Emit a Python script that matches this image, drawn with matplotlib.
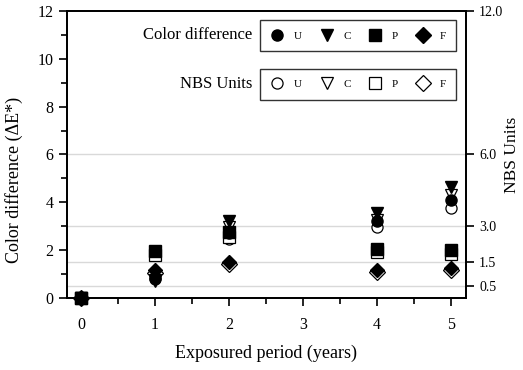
import matplotlib
matplotlib.use("Agg")
import matplotlib.pyplot as plt
from matplotlib.lines import Line2D

plt.rcParams['font.family'] = ['Liberation Serif', 'DejaVu Serif']
plt.rcParams['mathtext.fontset'] = 'stix'

# exposure period (years)
years = [0, 1, 2, 4, 5]
series = ['U', 'C', 'P', 'F']
markers = ['o', 'v', 's', 'D']

# colour difference dE* (filled markers)
de_u = [0.0, 0.85, 2.70, 3.20, 4.10]
de_c = [0.0, 0.75, 3.20, 3.55, 4.65]
de_p = [0.0, 1.95, 2.75, 2.05, 2.00]
de_f = [0.0, 1.15, 1.50, 1.15, 1.25]

# NBS units (open markers)
nbs_u = [0.0, 0.80, 2.45, 2.95, 3.75]
nbs_c = [0.0, 0.70, 2.95, 3.25, 4.30]
nbs_p = [0.0, 1.80, 2.55, 1.90, 1.85]
nbs_f = [0.0, 1.05, 1.40, 1.10, 1.15]

nbs_ticks = [0.5, 1.5, 3.0, 6.0, 12.0]

de_all = [de_u, de_c, de_p, de_f]
nbs_all = [nbs_u, nbs_c, nbs_p, nbs_f]

fig = plt.figure(figsize=(5.23, 3.70), dpi=100)
ax = fig.add_axes([0.128, 0.195, 0.763, 0.775])

for y in nbs_ticks[:-1]:
    ax.axhline(y, color='#d9d9d9', lw=1, zorder=0)

ms = 8
for vals, m in zip(nbs_all, markers):
    ax.plot(years, vals, linestyle='none', marker=m, ms=ms, mfc='white',
            mec='black', mew=0.9, zorder=4, clip_on=False)
for vals, m in zip(de_all, markers):
    ax.plot(years, vals, linestyle='none', marker=m, ms=ms if m != 'D' else 7,
            color='black', zorder=5, clip_on=False)

ax.set_xlim(-0.19, 5.2)
ax.set_ylim(0, 12)
ax.set_xticks([0, 1, 2, 3, 4, 5])
ax.set_xticks([0.5, 1.5, 2.5, 3.5, 4.5], minor=True)
ax.set_yticks([0, 2, 4, 6, 8, 10, 12])
ax.set_yticks([1, 3, 5, 7, 9, 11], minor=True)
ax.tick_params(axis='both', which='major', direction='out', length=6, width=1.2,
               labelsize=11.5)
ax.tick_params(axis='both', which='minor', direction='out', length=4, width=1.2)
ax.tick_params(axis='x', pad=8)
for s in ax.spines.values():
    s.set_linewidth(1.3)

ax.set_xlabel('Exposured period (years)', fontsize=13, labelpad=8)
ax.set_ylabel('Color difference (ΔE*)', fontsize=13)
ax.yaxis.set_label_coords(-0.11, 0.41)

ax2 = ax.twinx()
ax2.set_ylim(0, 12)
ax2.set_yticks(nbs_ticks)
ax2.set_yticklabels([f'{v:.1f}' for v in nbs_ticks])
ax2.tick_params(axis='y', direction='out', length=6, width=1.2, labelsize=10)
ax2.set_ylabel('NBS Units', fontsize=12.5, rotation=90)
ax2.yaxis.set_label_coords(1.095, 0.5)
for s in ax2.spines.values():
    s.set_linewidth(1.3)

# legends
filled = [Line2D([], [], linestyle='none', marker=m, ms=ms, color='black')
          for m in markers]
opened = [Line2D([], [], linestyle='none', marker=m, ms=ms, mfc='white',
                 mec='black', mew=0.9) for m in markers]
leg_kw = dict(ncol=4, frameon=True, fancybox=False, edgecolor='black',
              fontsize=8, handlelength=1.2, handletextpad=0.9, columnspacing=1.6,
              borderpad=0.95, borderaxespad=0)
leg1 = ax2.legend(filled, series, loc='upper right',
                  bbox_to_anchor=(0.975, 0.968), **leg_kw)
leg1.get_frame().set_linewidth(1.0)
ax2.add_artist(leg1)
leg2 = ax2.legend(opened, series, loc='upper right',
                  bbox_to_anchor=(0.975, 0.798), **leg_kw)
leg2.get_frame().set_linewidth(1.0)

ax.text(0.465, 0.915, 'Color difference', transform=ax.transAxes,
        ha='right', va='center', fontsize=12)
ax.text(0.465, 0.745, 'NBS Units', transform=ax.transAxes,
        ha='right', va='center', fontsize=12)

fig.savefig('out.png', dpi=100)
